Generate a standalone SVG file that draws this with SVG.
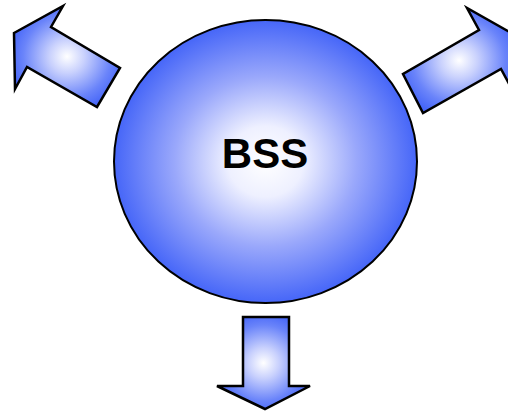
<svg xmlns="http://www.w3.org/2000/svg" width="508" height="413" viewBox="0 0 508 413">
  <defs>
    <radialGradient id="sphere" cx="0.5" cy="0.5" r="0.5">
      <stop offset="0" stop-color="#ffffff"/>
      <stop offset="0.25" stop-color="#eef0ff"/>
      <stop offset="0.6" stop-color="#9aa8fb"/>
      <stop offset="1" stop-color="#4666f8"/>
    </radialGradient>
    <radialGradient id="arrowFill" cx="0.5" cy="0.5" r="0.55">
      <stop offset="0" stop-color="#ffffff"/>
      <stop offset="0.3" stop-color="#c9d1fd"/>
      <stop offset="0.75" stop-color="#6a84fa"/>
      <stop offset="1" stop-color="#4666f8"/>
    </radialGradient>
  </defs>
  <style>
    .arrow { fill: url(#arrowFill); stroke: #000; stroke-width: 2.5; stroke-linejoin: miter; }
    .ball { fill: url(#sphere); stroke: #000; stroke-width: 2; }
    .label { font-family: "Liberation Sans", Arial, sans-serif; font-weight: bold; font-size: 42px; fill: #000; }
  </style>
  <g id="bss">
    <ellipse class="ball" cx="265.5" cy="161.5" rx="151.5" ry="141.5"/>
    <text class="label" x="265" y="168" text-anchor="middle">BSS</text>
  </g>
  <g id="arrow-left">
    <polygon class="arrow" points="14,33 63,6 51,27 120,68 97,107 27,67 15,89"/>
  </g>
  <g id="arrow-right">
    <polygon class="arrow" points="515,35 467,8 479,30 403,74 423,113 501,69 513,91"/>
  </g>
  <g id="arrow-down">
    <polygon class="arrow" points="243,317 289,317 289,386 310,386 265,409 217,386 243,386"/>
  </g>
</svg>
